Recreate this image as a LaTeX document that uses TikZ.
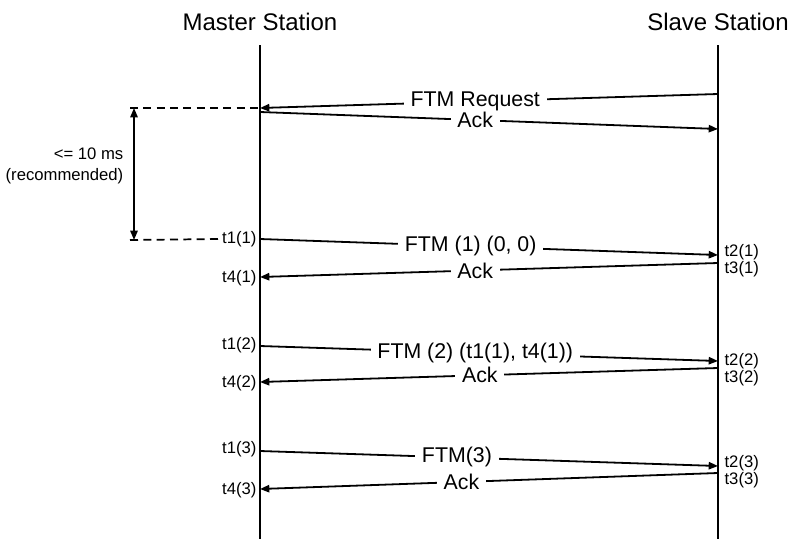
\documentclass[tikz,border=0pt]{standalone}
\usepackage{fontspec}
\setsansfont{Liberation Sans}
\usetikzlibrary{arrows.meta,positioning}

\begin{document}
\begin{tikzpicture}[x=0.75pt,y=-0.75pt,font=\sffamily,>={Triangle[length=7pt,width=5.5pt]},
 life/.style={line width=2.2pt},
 msg/.style={->,line width=1.35pt},
 lbl/.style={fill=white,inner xsep=5pt,inner ysep=1pt,font=\fontsize{16}{18}\sffamily},
 stamp/.style={inner sep=1pt,font=\fontsize{12.5}{15}\sffamily},
 guide/.style={line width=1.3pt,dash pattern=on 6pt off 4pt}]
\useasboundingbox (0,0) rectangle (791,539);
\node[font=\fontsize{18}{21}\sffamily] (mtitle) at (260,22) {Master Station};
\node[font=\fontsize{18}{21}\sffamily] (stitle) at (718,22) {Slave Station};
\coordinate (mtop) at (260,45);
\coordinate (mbot) at (260,539);
\coordinate (stop) at (718,45);
\coordinate (sbot) at (718,539);
\draw[life] (mtop)--(mbot);
\draw[life] (stop)--(sbot);
% request exchange
\coordinate (req0) at (718,94);
\coordinate (req1) at (260,108);
\coordinate (ack0) at (260,112);
\coordinate (ack1) at (718,129);
\draw[msg] (req0)--node[lbl,pos=0.53] {FTM Request} (req1);
\draw[msg] (ack0)--node[lbl,pos=0.47,inner ysep=0pt] {Ack} (ack1);
% timing window
\coordinate (wtop) at (130,108);
\coordinate (wbot) at (130,240);
\node[stamp,anchor=east] (t11) at (258,239) {t1(1)};
\draw[guide] (wtop)--(req1);
\draw[guide] (wbot)--(t11.west);
\draw[<->,line width=1.3pt] ([xshift=3]wtop)--([xshift=3]wbot);
\node[align=right,anchor=east,font=\fontsize{12.5}{16}\sffamily] (window) at (128,166) {<= 10 ms\\(recommended)};
% FTM 1
\coordinate (f1a) at (260,239);
\coordinate (f1b) at (718,255);
\coordinate (k1a) at (718,263);
\coordinate (k1b) at (260,277);
\draw[msg] (f1a)--node[lbl,pos=0.46] {FTM (1) (0, 0)} (f1b);
\draw[msg] (k1a)--node[lbl,pos=0.53] {Ack} (k1b);
\node[stamp,anchor=east] (t41) at (258,278) {t4(1)};
\node[stamp,anchor=west] (t21) at (723,252) {t2(1)};
\node[stamp,anchor=west] (t31) at (723,269) {t3(1)};
% FTM 2
\coordinate (f2a) at (260,346);
\coordinate (f2b) at (718,361);
\coordinate (k2a) at (718,368);
\coordinate (k2b) at (260,382);
\draw[msg] (f2a)--node[lbl,pos=0.47] {FTM (2) (t1(1), t4(1))} (f2b);
\draw[msg] (k2a)--node[lbl,pos=0.52] {Ack} (k2b);
\node[stamp,anchor=east] (t12) at (258,345) {t1(2)};
\node[stamp,anchor=east] (t42) at (258,383) {t4(2)};
\node[stamp,anchor=west] (t22) at (723,361) {t2(2)};
\node[stamp,anchor=west] (t32) at (723,378) {t3(2)};
% FTM 3
\coordinate (f3a) at (260,451);
\coordinate (f3b) at (718,466);
\coordinate (k3a) at (718,473);
\coordinate (k3b) at (260,489);
\draw[msg] (f3a)--node[lbl,pos=0.43] {FTM(3)} (f3b);
\draw[msg] (k3a)--node[lbl,pos=0.56] {Ack} (k3b);
\node[stamp,anchor=east] (t13) at (258,449) {t1(3)};
\node[stamp,anchor=east] (t43) at (258,490) {t4(3)};
\node[stamp,anchor=west] (t23) at (723,463) {t2(3)};
\node[stamp,anchor=west] (t33) at (723,480) {t3(3)};
\end{tikzpicture}
\end{document}
